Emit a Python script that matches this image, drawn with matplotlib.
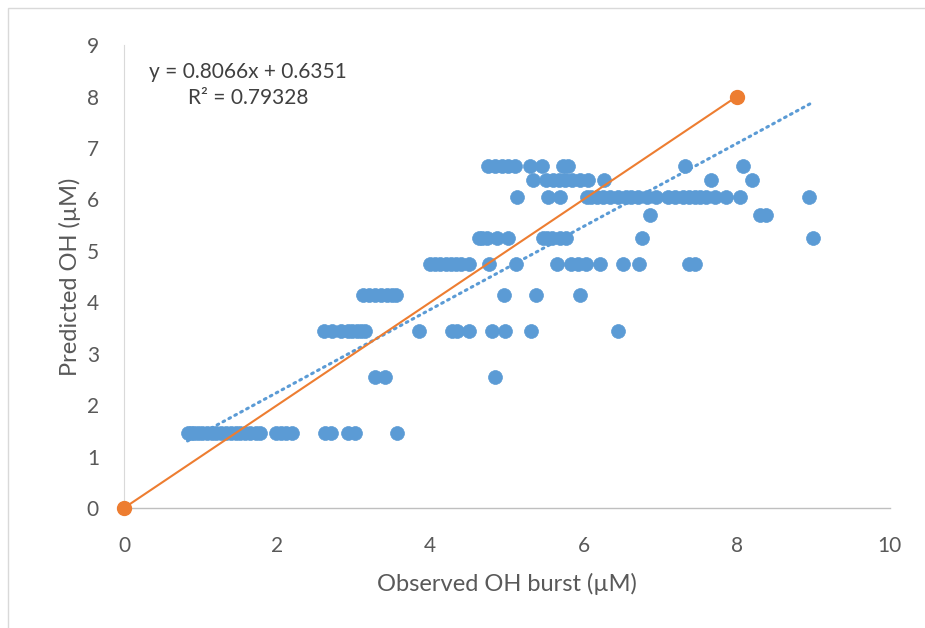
import numpy as np
import matplotlib.pyplot as plt
from matplotlib.patches import Rectangle

plt.rcParams['font.family'] = ['Lato', 'DejaVu Sans']

# observed OH burst values, grouped by the predicted OH level they map to
pred_levels = [1.45, 2.55, 3.45, 4.15, 4.75, 5.25, 5.7, 6.05, 6.38, 6.65]
obs_145 = [0.83, 0.88, 0.92, 0.97, 1.02, 1.08, 1.15, 1.2, 1.27, 1.33, 1.4, 1.46,
           1.52, 1.58, 1.65, 1.72, 1.78, 1.98, 2.05, 2.12, 2.2, 2.63, 2.7,
           2.92, 3.02, 3.56]
obs_255 = [3.28, 3.41, 4.84]
obs_345 = [2.61, 2.72, 2.84, 2.92, 2.98, 3.04, 3.1, 3.15, 3.85, 4.28, 4.35,
           4.5, 4.8, 4.98, 5.32, 6.45]
obs_415 = [3.12, 3.2, 3.28, 3.36, 3.44, 3.5, 3.55, 4.96, 5.38, 5.95]
obs_475 = [4.0, 4.06, 4.12, 4.2, 4.27, 4.33, 4.4, 4.5, 4.77, 5.12, 5.65, 5.84,
           5.93, 6.03, 6.21, 6.51, 6.72, 7.38, 7.45]
obs_525 = [4.63, 4.68, 4.74, 4.87, 5.01, 5.47, 5.53, 5.59, 5.69, 5.77, 6.76, 9.0]
obs_570 = [6.87, 8.3, 8.38]
obs_605 = [5.13, 5.54, 5.69, 6.04, 6.1, 6.18, 6.25, 6.35, 6.45, 6.55, 6.62,
           6.71, 6.83, 6.95, 7.1, 7.2, 7.3, 7.38, 7.45, 7.52, 7.6, 7.72, 7.86,
           8.04, 8.94]
obs_638 = [5.34, 5.51, 5.6, 5.68, 5.76, 5.85, 5.95, 6.06, 6.27, 7.66, 8.2]
obs_665 = [4.75, 4.85, 4.93, 5.02, 5.1, 5.3, 5.46, 5.73, 5.8, 7.32, 8.08]

groups = [obs_145, obs_255, obs_345, obs_415, obs_475, obs_525, obs_570,
          obs_605, obs_638, obs_665]
observed = np.concatenate(groups)
predicted = np.concatenate([[lv] * len(g) for lv, g in zip(pred_levels, groups)])

# linear trendline reported on the chart
slope, intercept, r2 = 0.8066, 0.6351, 0.79328

# 1:1 reference line
ref_x = [0, 8]
ref_y = [0, 8]

blue = '#5B9BD5'
orange = '#ED7D31'

fig = plt.figure(figsize=(9.25, 6.28), dpi=100)
ax = fig.add_axes([0.134, 0.191, 0.828, 0.737])

ax.scatter(observed, predicted, s=100, color=blue, edgecolors=blue,
           linewidths=0.5, zorder=3)

tx = np.array([observed.min(), observed.max()])
ax.plot(tx, slope * tx + intercept, color=blue, lw=2.2,
        linestyle=(0, (0.6, 1.6)), dash_capstyle='round', zorder=2)

ax.plot(ref_x, ref_y, color=orange, lw=1.5, marker='o', markersize=10,
        zorder=4, clip_on=False)

ax.text(1.62, 8.48, 'y = 0.8066x + 0.6351', ha='center', va='center',
        fontsize=15, color='#404040')
ax.text(1.62, 7.97, 'R² = %.5f' % r2, ha='center', va='center',
        fontsize=15, color='#404040')

ax.set_xlim(0, 10)
ax.set_ylim(0, 9)
ax.set_xticks(range(0, 11, 2))
ax.set_yticks(range(0, 10))
ax.tick_params(length=0, labelsize=15, labelcolor='#595959')
ax.tick_params(axis='x', pad=20)
ax.tick_params(axis='y', pad=18)

for side in ['top', 'right']:
    ax.spines[side].set_visible(False)
ax.spines['left'].set_color('#D9D9D9')
ax.spines['bottom'].set_color('#BFBFBF')
ax.spines['bottom'].set_linewidth(1.0)

ax.set_xlabel('Observed OH burst (µM)', fontsize=17, color='#595959', labelpad=12)
ax.set_ylabel('Predicted OH (µM)', fontsize=17, color='#595959', labelpad=4)

fig.patches.append(Rectangle((0.009, -0.01), 1.0, 0.998, transform=fig.transFigure,
                             fill=False, edgecolor='#D9D9D9', lw=1))

fig.savefig('out.png', dpi=100)
